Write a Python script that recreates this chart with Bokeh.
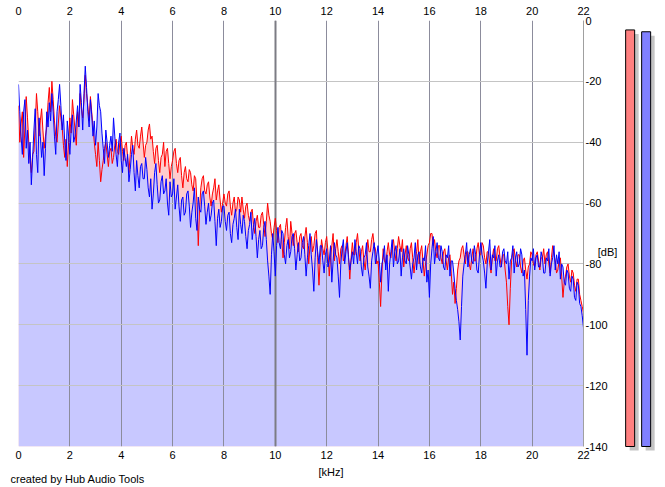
from bokeh.plotting import figure
from bokeh.layouts import row, column
from bokeh.models import Range1d, FixedTicker, LinearAxis, Grid
from bokeh.core.properties import value
from bokeh.embed import file_html
from bokeh.resources import INLINE

# ---------------- data ----------------
bin_khz = 0.05
blue_db = [
    -21, -30, -38, -44, -30, -26, -42, -36, -47, -40, -54, -45, -36, -29, -44, -50, -32, -38, -45, -40,
    -51, -42, -30, -35, -27, -33, -24, -30, -38, -44, -30, -26, -21, -28, -36, -31, -40, -46, -33, -38,
    -44, -36, -31, -40, -38, -33, -28, -35, -21, -27, -36, -24, -15, -22, -30, -35, -26, -31, -38, -33,
    -41, -35, -24, -28, -30, -37, -42, -47, -36, -40, -45, -41, -38, -43, -32, -38, -44, -48, -40, -37,
    -46, -50, -42, -45, -48, -44, -53, -49, -44, -41, -50, -56, -46, -51, -55, -48, -47, -52, -52, -45,
    -49, -55, -58, -52, -62, -57, -50, -47, -54, -60, -59, -53, -51, -57, -56, -52, -60, -64, -53, -58,
    -57, -52, -62, -58, -54, -61, -66, -59, -58, -64, -63, -57, -56, -61, -68, -63, -60, -55, -65, -69,
    -58, -62, -63, -57, -56, -61, -67, -63, -60, -66, -64, -60, -59, -66, -74, -65, -62, -68, -66, -61,
    -61, -66, -69, -64, -63, -70, -73, -67, -65, -62, -68, -72, -62, -67, -70, -64, -66, -71, -75, -69,
    -67, -63, -72, -68, -65, -71, -78, -72, -69, -75, -74, -68, -66, -72, -79, -84, -90, -77, -70, -76,
    -84, -74, -68, -73, -75, -69, -70, -77, -80, -74, -72, -78, -76, -71, -70, -75, -82, -77, -73, -79,
    -78, -73, -71, -77, -84, -78, -74, -70, -77, -82, -89, -78, -72, -76, -80, -74, -74, -79, -83, -77,
    -75, -81, -79, -74, -86, -79, -73, -77, -78, -84, -91, -80, -75, -72, -80, -76, -73, -78, -82, -79,
    -76, -80, -72, -76, -80, -74, -75, -81, -84, -78, -77, -73, -81, -84, -88, -79, -76, -73, -80, -77,
    -74, -79, -86, -80, -78, -74, -82, -77, -89, -80, -76, -72, -81, -76, -74, -80, -79, -75, -84, -78,
    -75, -79, -80, -74, -77, -81, -85, -80, -78, -73, -82, -77, -76, -81, -83, -78, -79, -74, -86, -82,
    -91, -80, -75, -71, -80, -76, -73, -78, -79, -74, -76, -81, -82, -77, -78, -74, -84, -79, -79, -83,
    -88, -92, -95, -99, -105, -94, -84, -80, -77, -73, -81, -77, -75, -79, -80, -74, -77, -82, -83, -77,
    -73, -77, -79, -83, -88, -80, -76, -72, -82, -77, -78, -74, -84, -79, -77, -81, -81, -76, -75, -79,
    -80, -76, -85, -79, -78, -74, -83, -78, -76, -81, -80, -75, -77, -84, -82, -95, -110, -92, -84, -78,
    -79, -75, -82, -78, -77, -81, -81, -76, -78, -83, -83, -78, -79, -75, -84, -80, -78, -74, -82, -77,
    -80, -76, -85, -80, -81, -86, -87, -82, -83, -88, -89, -84, -85, -91, -92, -86, -87, -93, -94, -97,
    -101,
]
red_db = [
    -28, -40, -34, -30, -45, -35, -25, -32, -40, -46, -50, -44, -43, -35, -24, -30, -38, -33, -29, -36,
    -42, -38, -35, -27, -22, -30, -20, -26, -33, -38, -40, -34, -28, -32, -35, -41, -45, -39, -48, -40,
    -32, -37, -26, -31, -36, -41, -30, -35, -24, -29, -32, -26, -18, -24, -28, -33, -25, -30, -35, -40,
    -44, -48, -40, -46, -53, -49, -46, -42, -40, -44, -48, -43, -42, -47, -45, -41, -39, -43, -44, -40,
    -38, -43, -46, -41, -40, -45, -50, -44, -38, -42, -44, -39, -36, -41, -42, -38, -35, -40, -45, -41,
    -40, -36, -34, -39, -38, -43, -47, -42, -41, -46, -50, -45, -44, -40, -48, -43, -42, -47, -52, -48,
    -46, -43, -42, -47, -50, -46, -45, -51, -55, -50, -48, -52, -53, -49, -50, -54, -56, -51, -52, -60,
    -74, -62, -55, -52, -51, -56, -57, -54, -53, -58, -61, -57, -55, -52, -59, -56, -54, -59, -63, -60,
    -57, -60, -61, -57, -56, -61, -64, -60, -58, -63, -62, -58, -59, -63, -58, -62, -65, -61, -60, -64,
    -66, -63, -62, -67, -70, -66, -64, -68, -68, -64, -63, -67, -71, -66, -60, -64, -66, -70, -72, -68,
    -65, -69, -73, -68, -67, -72, -78, -73, -68, -65, -71, -75, -66, -70, -74, -70, -69, -73, -76, -71,
    -70, -74, -75, -71, -68, -73, -80, -74, -71, -76, -74, -70, -69, -78, -87, -78, -72, -75, -77, -73,
    -71, -76, -84, -78, -74, -70, -79, -75, -72, -76, -80, -75, -74, -79, -78, -74, -71, -77, -85, -78,
    -73, -77, -77, -73, -70, -75, -79, -76, -74, -79, -82, -77, -72, -76, -76, -72, -70, -74, -75, -80,
    -79, -86, -94, -83, -75, -79, -80, -76, -73, -77, -78, -74, -72, -76, -79, -75, -71, -74, -76, -72,
    -81, -77, -74, -78, -79, -75, -73, -78, -83, -79, -76, -72, -80, -76, -74, -79, -84, -80, -77, -74,
    -73, -70, -70, -74, -72, -76, -78, -74, -74, -78, -80, -76, -75, -79, -82, -78, -77, -83, -90, -86,
    -93, -88, -82, -79, -78, -75, -74, -77, -80, -76, -76, -80, -82, -78, -75, -79, -79, -75, -73, -77,
    -77, -73, -74, -78, -80, -76, -76, -80, -83, -78, -75, -79, -79, -75, -74, -78, -81, -77, -77, -82,
    -86, -94, -100, -88, -79, -76, -75, -79, -81, -77, -77, -81, -83, -79, -78, -82, -85, -81, -80, -76,
    -77, -80, -81, -77, -76, -79, -82, -78, -78, -75, -80, -77, -76, -80, -83, -78, -74, -77, -79, -83,
    -82, -79, -78, -84, -91, -86, -84, -81, -80, -84, -86, -82, -83, -87, -89, -85, -85, -90, -92, -94,
    -96,
]
freq_khz = [i * bin_khz for i in range(len(blue_db))]

x_ticks = [0, 2, 4, 6, 8, 10, 12, 14, 16, 18, 20, 22]
x_major = [0, 10]
y_ticks = [0, -20, -40, -60, -80, -100, -120, -140]
db_unit_at = -76

meter_channels = [0, 1]
meter_levels = [-3.1, -3.7]
meter_colors = ["#ff8080", "#8080ff"]

footer_texts = ["[kHz]", "created by Hub Audio Tools"]
footer_x_khz = [11.68, -0.31]
footer_y_px = [16, 9]

FONT = "Liberation Sans"
FS = "11px"
PXK = 565 / 22

# ---------------- main spectrum ----------------
p = figure(frame_width=565, frame_height=426,
           min_border_left=18, min_border_right=40,
           min_border_top=20, min_border_bottom=17,
           x_range=Range1d(0, 22), y_range=Range1d(-140, 0),
           x_axis_location="below", y_axis_location="right",
           toolbar_location=None, output_backend="svg")
p.outline_line_color = None
p.background_fill_color = "white"
p.border_fill_color = "white"

p.varea(x=freq_khz, y1=-140, y2=red_db, fill_color="#ffcccc", level="image")
p.varea(x=freq_khz, y1=-140, y2=blue_db, fill_color="#c8c8ff", level="image")

p.xgrid.ticker = FixedTicker(ticks=x_ticks)
p.xgrid.grid_line_color = "#8c8c9c"
p.xgrid.grid_line_width = 1
p.ygrid.ticker = FixedTicker(ticks=y_ticks)
p.ygrid.grid_line_color = "#c4c4c4"
p.ygrid.grid_line_width = 1
p.add_layout(Grid(dimension=0, ticker=FixedTicker(ticks=x_major),
                  grid_line_color="#7c7c84", grid_line_width=2))

p.line(freq_khz, red_db, line_color="#ff0000", line_width=1)
p.line(freq_khz, blue_db, line_color="#0000ff", line_width=1)

def style_axis(ax):
    ax.ticker = FixedTicker(ticks=x_ticks)
    ax.major_tick_out = 0
    ax.major_tick_in = 0
    ax.minor_tick_out = 0
    ax.minor_tick_in = 0
    ax.axis_line_color = None
    ax.major_label_text_font = FONT
    ax.major_label_text_font_size = FS
    ax.major_label_text_color = "black"

xb = p.xaxis[0]
style_axis(xb)
xb.major_label_standoff = 4

xt = LinearAxis()
style_axis(xt)
xt.major_label_standoff = 6
p.add_layout(xt, "above")

ya = p.yaxis[0]
ya.ticker = FixedTicker(ticks=y_ticks + [db_unit_at])
overrides = {t: str(t) for t in y_ticks}
overrides[db_unit_at] = "\u00a0\u00a0\u00a0\u00a0[dB]"
ya.major_label_overrides = overrides
ya.major_tick_out = 0
ya.major_tick_in = 0
ya.minor_tick_out = 0
ya.minor_tick_in = 0
ya.axis_line_color = "#a0a0a0"
ya.major_label_standoff = 2
ya.major_label_text_font = FONT
ya.major_label_text_font_size = FS
ya.major_label_text_color = "black"

# ---------------- level meters ----------------
px_per_unit = 16
m = figure(frame_width=34, frame_height=431,
           min_border_left=0, min_border_right=8,
           min_border_top=20, min_border_bottom=12,
           x_range=Range1d(-6.65 / px_per_unit, (34 - 6.65) / px_per_unit),
           y_range=Range1d(-141.64, 0),
           x_axis_location=None, y_axis_location=None,
           toolbar_location=None, output_backend="svg")
m.outline_line_color = None
m.grid.visible = False
bar_w = 9 / px_per_unit
shadow_dx = 4 / px_per_unit
shadow_dy = 1.3
m.vbar(x=[c + shadow_dx for c in meter_channels], width=bar_w,
       top=[v - shadow_dy for v in meter_levels], bottom=-140 - shadow_dy,
       fill_color="#c4c4c4", line_color=None)
m.vbar(x=meter_channels, width=bar_w, top=meter_levels, bottom=-140,
       fill_color=meter_colors, line_color="black", line_width=1)

# ---------------- footer texts ----------------
f = figure(frame_width=665, frame_height=24,
           min_border_left=0, min_border_right=0,
           min_border_top=0, min_border_bottom=0,
           x_range=Range1d(-18 / PXK, (665 - 18) / PXK), y_range=Range1d(0, 24),
           x_axis_location=None, y_axis_location=None,
           toolbar_location=None, output_backend="svg")
f.outline_line_color = None
f.grid.visible = False
f.text(x=footer_x_khz, y=footer_y_px, text=footer_texts,
       text_font=value(FONT), text_font_size=value(FS),
       text_color="black", text_align="left", text_baseline="alphabetic")

layout = column(row(p, m, spacing=0), f, spacing=0)
open("out.html", "w").write(file_html(layout, INLINE))
